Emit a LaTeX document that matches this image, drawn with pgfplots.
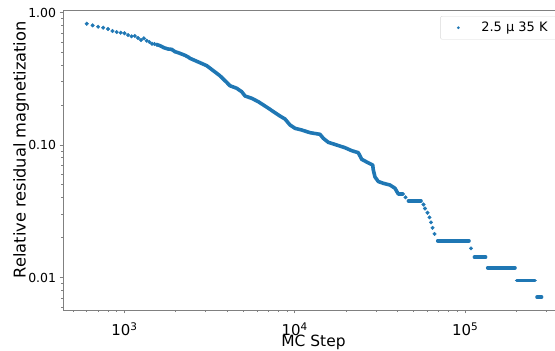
\documentclass[border=0pt]{standalone}
\usepackage{fontspec}
\setmainfont{DejaVu Sans}
\usepackage{pgfplots}
\pgfplotsset{compat=1.18}
\definecolor{mplblue}{HTML}{1F77B4}
\definecolor{spine}{HTML}{808080}
\begin{document}
\begin{tikzpicture}
\begin{loglogaxis}[
  scale only axis, width=501bp, height=299.3bp,
  at={(0bp,0bp)}, anchor=south west,
  xmin=435.5, xmax=380800, ymin=0.005685, ymax=1.0318,
  axis line style={spine, line width=0.8bp},
  tick style={spine, line width=0.8bp},
  tick align=outside, tick pos=left,
  major tick length=3.5bp, minor tick length=2bp,
  xtick={1000,10000,100000},
  minor xtick={500,600,700,800,900,2000,3000,4000,5000,6000,7000,8000,9000,20000,30000,40000,50000,60000,70000,80000,90000,200000,300000},
  xticklabels={10\textsuperscript{3},10\textsuperscript{4},10\textsuperscript{5}},
  ytick={0.01,0.1,1},
  minor ytick={0.006,0.007,0.008,0.009,0.02,0.03,0.04,0.05,0.06,0.07,0.08,0.09,0.2,0.3,0.4,0.5,0.6,0.7,0.8,0.9},
  yticklabels={0.01,0.10,1.00},
  xticklabel style={font=\fontsize{15}{15}\selectfont, anchor=base, inner sep=0pt, yshift=-22.5bp},
  yticklabel style={font=\fontsize{12.5}{12.5}\selectfont, anchor=east, inner sep=0pt, xshift=-3.3bp},
  xlabel={MC Step},
  ylabel={Relative residual magnetization},
  every axis x label/.style={at={(axis description cs:0.5,0)}, anchor=base, yshift=-36.2bp, font=\fontsize{15.5}{15.5}\selectfont},
  every axis y label/.style={at={(axis description cs:-0.0838,0.535)}, rotate=90, anchor=center, font=\fontsize{16.3}{16.3}\selectfont},
  legend style={at={(axis description cs:1,1)}, anchor=north east, xshift=-5.3bp, yshift=-5.3bp,
    draw=gray!30, rounded corners=2bp, font=\fontsize{13}{13}\selectfont,
    inner xsep=9bp, inner ysep=4bp, cells={anchor=west}},
  legend image code/.code={\path[draw=none,fill=none] (0bp,0bp) rectangle (30bp,0bp); \fill[mplblue, draw=none] (9bp,0bp) circle (1.5bp);},
]
% early, well separated samples
\addplot[mplblue, only marks, mark=*, mark size=1.8bp, mark options={draw=none, fill=mplblue}] coordinates {
(600,0.823) (650,0.800) (700,0.781) (750,0.768) (800,0.751) (850,0.725)
(900,0.712) (950,0.704) (1000,0.697) (1050,0.676) (1100,0.661) (1150,0.665)
(1200,0.642) (1250,0.620) (1300,0.639) (1350,0.613) (1400,0.599) (1450,0.581)
(1500,0.578) (1550,0.572)
};
\addlegendentry{2.5 μ 35 K}
% dense samples that merge into a band
\addplot[forget plot, mplblue, line width=3.6bp, line cap=round, line join=round] coordinates {
(1550,0.572) (1616,0.562) (1706,0.542) (1808,0.530) (1893,0.527) (1980,0.506)
(2070,0.497) (2167,0.486) (2266,0.475) (2369,0.461) (2424,0.451) (2775,0.418)
(3039,0.397) (3322,0.364) (3637,0.333) (3982,0.297) (4164,0.280) (4559,0.268)
(4878,0.2525) (5102,0.2344) (5584,0.2252) (6107,0.2122) (6683,0.1970) (7152,0.1859)
(7652,0.1753) (8187,0.1655) (8761,0.1571) (9372,0.1416) (10028,0.1336) (10977,0.1298)
(12285,0.1239) (14060,0.1204) (14700,0.1123) (15730,0.1048) (17620,0.1000) (19720,0.0954)
(21590,0.0906) (23600,0.0875) (24710,0.0780) (26440,0.0744) (28670,0.0706) (28900,0.0648)
(29580,0.0573) (30930,0.0530) (33100,0.0514) (36220,0.0499) (38770,0.0471) (40530,0.04265)
(43370,0.04265)
};
% plateaus of the late steps
\addplot[forget plot, mplblue, line width=3.6bp, line cap=round, unbounded coords=jump] coordinates {
(46470,0.03791) (55100,0.03791) (60000,nan)
(69050,0.01896) (105400,0.01896) (110000,nan)
(113400,0.01422) (131960,0.01422) (133000,nan)
(135700,0.01185) (196300,0.01185) (198000,nan)
(200900,0.009479) (257300,0.009479) (260000,nan)
(264400,0.007109) (281300,0.007109)
};
% single late samples
\addplot[forget plot, mplblue, only marks, mark=*, mark size=1.8bp, mark options={draw=none, fill=mplblue}] coordinates {
(44670,0.04028) (57000,0.03555) (58150,0.03318) (60150,0.03081) (61800,0.02844)
(63070,0.02607) (64360,0.02370) (66120,0.02133) (108300,0.01659)
};
\end{loglogaxis}
\pgfresetboundingbox
\path[use as bounding box] (-63bp,-41bp) rectangle (492bp,310bp);
\end{tikzpicture}
\end{document}
